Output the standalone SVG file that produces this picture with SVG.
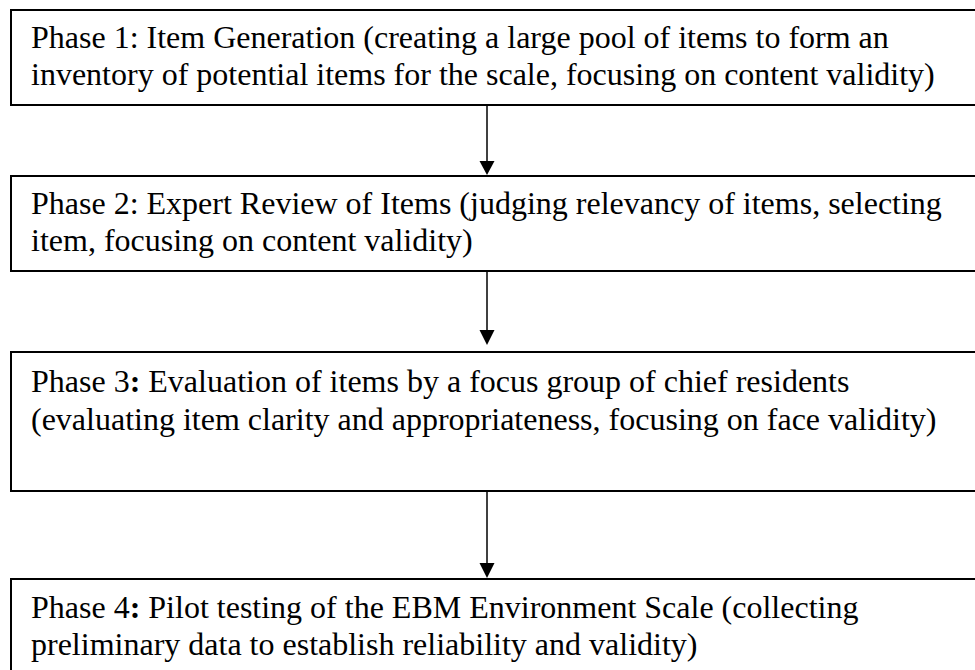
<svg xmlns="http://www.w3.org/2000/svg" width="975" height="670" viewBox="0 0 975 670">
  <style>
    .box { fill: #ffffff; stroke: #000000; stroke-width: 2; }
    .label { font-family: "Liberation Serif", "Times New Roman", serif; font-size: 32px; fill: #000000; }
    .b { font-weight: bold; }
    .conn { stroke: #000000; stroke-width: 1.5; fill: none; }
    .head { fill: #000000; }
  </style>
  <rect width="975" height="670" fill="#ffffff"/>

  <!-- vertical connectors with filled triangular heads -->
  <g id="connectors">
    <path class="conn" d="M487,106 V163"/>
    <path class="head" d="M479.5,161 L494.5,161 L487,175 Z"/>
    <path class="conn" d="M487,272 V332"/>
    <path class="head" d="M479.5,330 L494.5,330 L487,345 Z"/>
    <path class="conn" d="M487,492 V565"/>
    <path class="head" d="M479.5,563 L494.5,563 L487,578 Z"/>
  </g>

  <g id="phase1">
    <rect class="box" x="11" y="10" width="970" height="95"/>
    <text class="label" x="31" y="48">Phase 1: Item Generation (creating a large pool of items to form an</text>
    <text class="label" x="31" y="85">inventory of potential items for the scale, focusing on content validity)</text>
  </g>

  <g id="phase2">
    <rect class="box" x="11" y="176" width="970" height="95"/>
    <text class="label" x="31" y="214">Phase 2: Expert Review of Items (judging relevancy of items, selecting</text>
    <text class="label" x="31" y="251">item, focusing on content validity)</text>
  </g>

  <g id="phase3">
    <rect class="box" x="11" y="352" width="970" height="139"/>
    <text class="label" x="31" y="392">Phase 3<tspan class="b">:</tspan> Evaluation of items by a focus group of chief residents</text>
    <text class="label" x="31" y="430">(evaluating item clarity and appropriateness, focusing on face validity)</text>
  </g>

  <g id="phase4">
    <rect class="box" x="11" y="579" width="970" height="100"/>
    <text class="label" x="31" y="618">Phase 4<tspan class="b">:</tspan> Pilot testing of the EBM Environment Scale (collecting</text>
    <text class="label" x="31" y="655">preliminary data to establish reliability and validity)</text>
  </g>
</svg>
